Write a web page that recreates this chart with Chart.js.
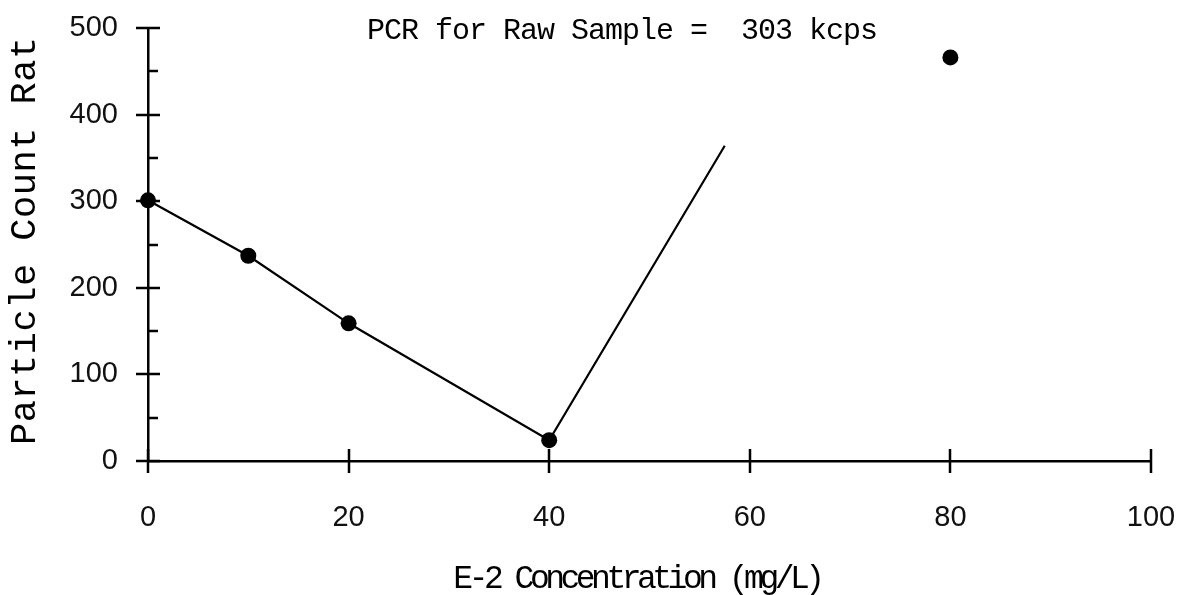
<!DOCTYPE html>
<html>
<head>
<meta charset="utf-8">
<script src="https://cdn.jsdelivr.net/npm/chart.js@4"></script>
<style>
  html, body { margin: 0; padding: 0; background: #fff; }
  #wrap { width: 1187px; height: 595px; }
</style>
</head>
<body>
<div id="wrap"><canvas id="chart" width="1187" height="595"></canvas></div>
<script>
// Measured points
const concentration = [0, 10, 20, 40, 80];
const pcr = [301, 237, 159, 24, 466];

// Connecting line (ends short of the last point, as in the original)
const lineX = [0, 10, 20, 40, 57.5];
const lineY = [301, 237, 159, 24, 364];

const xTicks = [0, 20, 40, 60, 80, 100];
const yTicks = [0, 100, 200, 300, 400, 500];
const yMinorTicks = [50, 150, 250, 350, 450];

const titleText = 'PCR for Raw Sample =  303 kcps';
const xTitle = 'E-2 Concentration (mg/L)';
const yTitle = 'Particle Count Rate';

const INK = '#000';

// tick marks that cross the axes, plus the free-floating texts
const decorations = {
    id: 'decorations',
    afterDraw(chart) {
        const ctx = chart.ctx;
        const { left, bottom } = chart.chartArea;
        const x = chart.scales.x;
        const y = chart.scales.y;

        ctx.save();
        ctx.strokeStyle = INK;
        ctx.lineWidth = 2.5;
        ctx.beginPath();
        yTicks.forEach(v => {
            let py = Math.round(y.getPixelForValue(v));
            ctx.moveTo(left - 12, py);
            ctx.lineTo(left + 12, py);
        });
        yMinorTicks.forEach(v => {
            let py = Math.round(y.getPixelForValue(v));
            ctx.moveTo(left, py);
            ctx.lineTo(left + 10, py);
        });
        xTicks.forEach(v => {
            let px = Math.round(x.getPixelForValue(v));
            ctx.moveTo(px, bottom - 12);
            ctx.lineTo(px, bottom + 12);
        });
        ctx.stroke();

        ctx.fillStyle = INK;

        // title inside the plot
        ctx.font = '30px "Liberation Mono"';
        ctx.textAlign = 'center';
        ctx.textBaseline = 'alphabetic';
        ctx.letterSpacing = '-1px';
        ctx.fillText(titleText, 622, 39);

        // x axis title
        ctx.font = '33px "Liberation Mono"';
        ctx.letterSpacing = '-4.5px';
        ctx.fillText(xTitle, 637, 588);

        // y axis title, clipped at the top like the original
        ctx.beginPath();
        ctx.rect(0, 34, 60, chart.height);
        ctx.clip();
        ctx.translate(35, 445);
        ctx.rotate(-Math.PI / 2);
        ctx.font = '37px "Liberation Mono"';
        ctx.letterSpacing = '0.5px';
        ctx.textAlign = 'left';
        ctx.fillText(yTitle, 0, 0);
        ctx.restore();
    },
};

new Chart(document.getElementById('chart'), {
    type: 'scatter',
    data: {
        datasets: [
            {
                label: 'line',
                data: lineX.map((v, i) => ({ x: v, y: lineY[i] })),
                showLine: true,
                borderColor: INK,
                borderWidth: 2.2,
                pointRadius: 0,
                fill: false,
                clip: false,
            },
            {
                label: 'PCR',
                data: concentration.map((v, i) => ({ x: v, y: pcr[i] })),
                showLine: false,
                pointRadius: 8,
                pointBackgroundColor: INK,
                pointBorderColor: INK,
                pointBorderWidth: 0,
                clip: false,
            },
        ],
    },
    options: {
        responsive: false,
        animation: false,
        events: [],
        layout: { padding: { top: 28, right: 36, left: 0, bottom: 0 } },
        plugins: {
            legend: { display: false },
            tooltip: { enabled: false },
            title: { display: false },
        },
        scales: {
            x: {
                type: 'linear',
                min: 0,
                max: 100,
                afterBuildTicks: s => { s.ticks = xTicks.map(v => ({ value: v })); },
                afterFit: s => { s.height = 134; s.paddingLeft = 0; s.paddingRight = 0; },
                grid: { display: false, drawTicks: false },
                border: { display: true, color: INK, width: 2.5 },
                ticks: {
                    color: '#111',
                    font: { family: '"Liberation Sans"', size: 29 },
                    padding: 40,
                    maxRotation: 0,
                },
            },
            y: {
                type: 'linear',
                min: 0,
                max: 500,
                afterBuildTicks: s => { s.ticks = yTicks.map(v => ({ value: v })); },
                afterFit: s => { s.width = 148; s.paddingTop = 0; s.paddingBottom = 0; },
                grid: { display: false, drawTicks: false },
                border: { display: true, color: INK, width: 2.5 },
                ticks: {
                    color: '#111',
                    font: { family: '"Liberation Sans"', size: 29 },
                    padding: 30,
                },
            },
        },
    },
    plugins: [decorations],
});
</script>
</body>
</html>
